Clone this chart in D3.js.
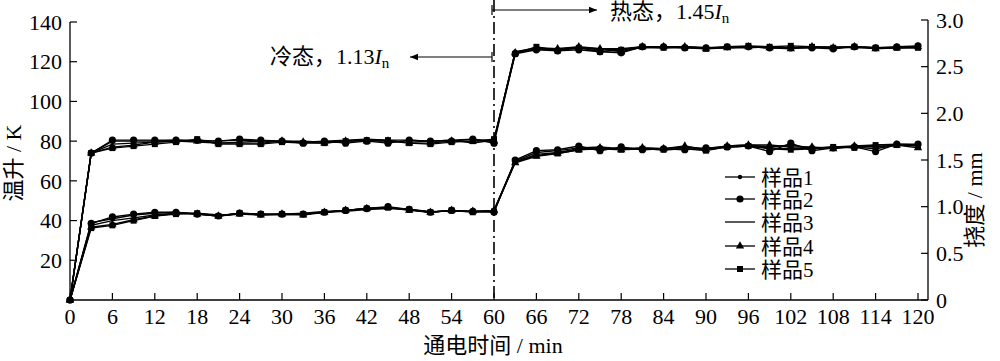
<!DOCTYPE html>
<html>
<head>
<meta charset="utf-8">
<script src="https://cdn.jsdelivr.net/npm/d3@7"></script>
<style>
  body { margin: 0; background: #fff; }
  svg { display: block; }
  text { font-family: "Liberation Serif", "Noto Sans CJK SC", serif; fill: #000; }
</style>
</head>
<body>
<svg id="graph" width="1000" height="361"></svg>
<script>
// time axis (min)
const minutes = [0, 3, 6, 9, 12, 15, 18, 21, 24, 27, 30, 33, 36, 39, 42, 45, 48, 51, 54, 57, 60,
  63, 66, 69, 72, 75, 78, 81, 84, 87, 90, 93, 96, 99, 102, 105, 108, 111, 114, 117, 120]
const xTicks = [0, 6, 12, 18, 24, 30, 36, 42, 48, 54, 60, 66, 72, 78, 84, 90, 96, 102, 108, 114, 120]
const leftTicks = [20, 40, 60, 80, 100, 120, 140]
const rightTicks = [0, 0.5, 1.0, 1.5, 2.0, 2.5, 3.0]
const sampleNames = ["样品1", "样品2", "样品3", "样品4", "样品5"]

// temperature rise (K), left axis
const temp1 = [0, 74, 80, 80, 80, 80.5, 80, 80, 80.5, 80, 80, 79.5, 80, 80.5, 81, 80.5, 80.5, 80, 80.5, 81, 80,
  125, 126.5, 126, 127, 126.5, 126.5, 127.5, 127.5, 127.5, 127, 127, 127.5, 127, 127, 127.5, 127, 127.5, 127, 127, 127.5]
const temp2 = [0, 74, 80.5, 80.5, 80.5, 80.5, 80.5, 80, 81, 80.5, 80, 79, 80, 79, 80, 79, 80.5, 80, 80, 81, 79,
  124, 126, 125.5, 126, 125, 124.5, 127.5, 127.5, 127, 127, 127.5, 127.5, 127, 127, 127, 126.5, 127.5, 127, 127.5, 128]
const temp3 = [0, 74, 78.5, 79, 79.5, 80, 79.5, 79, 79.5, 80, 80, 80, 79.5, 80, 80.5, 80, 79.5, 80, 80.5, 79, 80.5,
  125, 127, 126.5, 127, 126, 126, 127, 127, 127.5, 127, 127, 127, 127.5, 127, 127, 127.5, 127, 127, 127, 127]
const temp4 = [0, 74, 77, 78, 79.5, 80, 80, 79, 79, 79, 80, 79.5, 79, 80, 80, 80, 79, 79, 80, 80, 80,
  124.5, 126.5, 126.5, 127.5, 126.5, 125, 127.5, 127.5, 127.5, 126.5, 127, 127.5, 127, 126.5, 127.5, 127, 127.5, 126.5, 127, 127.5]
const temp5 = [0, 74, 76.5, 77.5, 78.5, 79.5, 81, 78.5, 78.5, 78.5, 79.5, 79, 79, 80, 80.5, 80.5, 79, 78.5, 79.5, 80, 81,
  124, 127.5, 125.5, 127, 125, 126, 127.5, 127, 127, 126.5, 127.5, 128, 127.5, 128, 127.5, 127, 127.5, 127, 127, 127]

// deflection (mm), right axis
const defl1 = [0, 0.83, 0.87, 0.91, 0.93, 0.94, 0.92, 0.90, 0.93, 0.91, 0.92, 0.93, 0.95, 0.96, 0.98, 0.99, 0.97, 0.94, 0.96, 0.95, 0.96,
  1.49, 1.58, 1.60, 1.63, 1.64, 1.62, 1.63, 1.62, 1.64, 1.62, 1.65, 1.66, 1.64, 1.66, 1.63, 1.64, 1.65, 1.66, 1.67, 1.66]
const defl2 = [0, 0.82, 0.89, 0.92, 0.94, 0.94, 0.92, 0.90, 0.93, 0.92, 0.92, 0.92, 0.94, 0.96, 0.98, 1.00, 0.97, 0.94, 0.96, 0.95, 0.94,
  1.50, 1.60, 1.61, 1.65, 1.60, 1.64, 1.61, 1.62, 1.61, 1.63, 1.64, 1.65, 1.59, 1.68, 1.60, 1.63, 1.64, 1.59, 1.67, 1.67]
const defl3 = [0, 0.80, 0.85, 0.88, 0.91, 0.93, 0.93, 0.91, 0.92, 0.92, 0.91, 0.92, 0.94, 0.95, 0.97, 0.98, 0.97, 0.95, 0.95, 0.95, 0.95,
  1.48, 1.56, 1.58, 1.62, 1.62, 1.62, 1.62, 1.61, 1.62, 1.61, 1.64, 1.65, 1.63, 1.62, 1.63, 1.63, 1.64, 1.62, 1.66, 1.66]
const defl4 = [0, 0.78, 0.81, 0.86, 0.90, 0.93, 0.92, 0.90, 0.92, 0.91, 0.92, 0.91, 0.94, 0.96, 0.98, 0.99, 0.96, 0.94, 0.96, 0.95, 0.96,
  1.47, 1.54, 1.57, 1.61, 1.63, 1.61, 1.63, 1.62, 1.65, 1.61, 1.65, 1.66, 1.66, 1.64, 1.64, 1.62, 1.65, 1.64, 1.66, 1.63]
const defl5 = [0, 0.77, 0.80, 0.85, 0.90, 0.92, 0.93, 0.90, 0.93, 0.92, 0.92, 0.92, 0.94, 0.96, 0.98, 0.99, 0.97, 0.94, 0.96, 0.94, 0.95,
  1.48, 1.55, 1.57, 1.61, 1.62, 1.61, 1.62, 1.61, 1.62, 1.60, 1.64, 1.65, 1.62, 1.61, 1.62, 1.64, 1.63, 1.66, 1.66, 1.65]

const temps = [temp1, temp2, temp3, temp4, temp5]
const defls = [defl1, defl2, defl3, defl4, defl5]

const svg = d3.select("#graph")

const plotLeft = 70, plotRight = 928, plotBottom = 300
const x = d3.scaleLinear().domain([0, 120]).range([plotLeft, 918])
const yLeft = d3.scaleLinear().domain([0, 140]).range([plotBottom, 22])
const yRight = d3.scaleLinear().domain([0, 3]).range([plotBottom, 20])

// marker drawers, one per sample
const markers = [
  (g) => g.append("circle").attr("r", 2.2),
  (g) => g.append("circle").attr("r", 3.6),
  (g) => {},
  (g) => g.append("path").attr("d", d3.symbol(d3.symbolTriangle, 30)()),
  (g) => g.append("path").attr("d", d3.symbol(d3.symbolSquare, 36)())
]

function draw_series(values, scale, idx){
  const pts = minutes.map((m, i) => [x(m), scale(values[i])])
  svg.append("path")
    .attr("d", d3.line()(pts))
    .attr("fill", "none")
    .attr("stroke", "#000")
    .attr("stroke-width", 1.4)
  pts.forEach(p => {
    const g = svg.append("g").attr("transform", `translate(${p[0]},${p[1]})`).attr("fill", "#000")
    markers[idx](g)
  })
}

// axes lines
svg.append("line").attr("x1", plotLeft).attr("x2", plotLeft).attr("y1", yLeft(140)).attr("y2", plotBottom)
  .attr("stroke", "#000").attr("stroke-width", 1.3)
svg.append("line").attr("x1", plotLeft).attr("x2", plotRight).attr("y1", plotBottom).attr("y2", plotBottom)
  .attr("stroke", "#000").attr("stroke-width", 1.3)
svg.append("line").attr("x1", plotRight).attr("x2", plotRight).attr("y1", yRight(3)).attr("y2", plotBottom)
  .attr("stroke", "#000").attr("stroke-width", 1.3)

// left ticks (inward)
leftTicks.forEach(t => {
  svg.append("line").attr("x1", plotLeft).attr("x2", plotLeft + 7).attr("y1", yLeft(t)).attr("y2", yLeft(t))
    .attr("stroke", "#000").attr("stroke-width", 1.2)
  svg.append("text").attr("x", 62).attr("y", yLeft(t)).attr("dy", "0.35em")
    .attr("text-anchor", "end").attr("font-size", 22).text(t)
})

// right ticks
rightTicks.forEach(t => {
  svg.append("line").attr("x1", plotRight - 7).attr("x2", plotRight).attr("y1", yRight(t)).attr("y2", yRight(t))
    .attr("stroke", "#000").attr("stroke-width", 1.2)
  svg.append("text").attr("x", 936).attr("y", yRight(t)).attr("dy", "0.35em")
    .attr("font-size", 22).text(t === 0 ? "0" : t.toFixed(1))
})

// bottom ticks
xTicks.forEach(t => {
  svg.append("line").attr("x1", x(t)).attr("x2", x(t)).attr("y1", plotBottom).attr("y2", plotBottom - 7)
    .attr("stroke", "#000").attr("stroke-width", 1.2)
  svg.append("text").attr("x", x(t)).attr("y", 324)
    .attr("text-anchor", "middle").attr("font-size", 22).text(t)
})

// axis titles
svg.append("text").attr("transform", "translate(21,163) rotate(-90)")
  .attr("text-anchor", "middle").attr("font-size", 22).text("温升 / K")
svg.append("text").attr("transform", "translate(982,200) rotate(-90)")
  .attr("text-anchor", "middle").attr("font-size", 22).text("挠度 / mm")
svg.append("text").attr("x", 493).attr("y", 353)
  .attr("text-anchor", "middle").attr("font-size", 22).text("通电时间 / min")

// dash-dot separator at 60 min
svg.append("line").attr("x1", x(60)).attr("x2", x(60)).attr("y1", 0).attr("y2", plotBottom)
  .attr("stroke", "#000").attr("stroke-width", 1.6).attr("stroke-dasharray", "12,4,2,4")

// arrow head
svg.append("defs").append("marker")
  .attr("id", "arrow").attr("viewBox", "0 0 10 10").attr("refX", 10).attr("refY", 5)
  .attr("markerWidth", 10).attr("markerHeight", 8).attr("markerUnits", "userSpaceOnUse").attr("orient", "auto")
  .append("path").attr("d", "M0,1 L10,5 L0,9 Z").attr("fill", "#000")

function draw_arrow(x1, x2, y){
  svg.append("line").attr("x1", x1).attr("x2", x2).attr("y1", y).attr("y2", y)
    .attr("stroke", "#000").attr("stroke-width", 1.2).attr("marker-end", "url(#arrow)")
  svg.append("line").attr("x1", x1).attr("x2", x1).attr("y1", y - 5).attr("y2", y + 5)
    .attr("stroke", "#000").attr("stroke-width", 1.2)
}
draw_arrow(x(60) - 2, 410, 57)
draw_arrow(x(60) - 2, 597, 10)

function draw_label(xp, y, pre, num){
  const t = svg.append("text").attr("x", xp).attr("y", y).attr("font-size", 22)
  t.append("tspan").text(pre)
  t.append("tspan").text(num)
  t.append("tspan").attr("font-style", "italic").text("I")
  t.append("tspan").attr("font-size", 15).attr("dy", 4).text("n")
}
draw_label(270, 64, "冷态，", "1.13")
draw_label(610, 19, "热态，", "1.45")

// series
temps.forEach((s, i) => draw_series(s, yLeft, i))
defls.forEach((s, i) => draw_series(s, yRight, i))

// legend
const legendY = [177, 199, 222, 246, 269]
sampleNames.forEach((name, i) => {
  svg.append("line").attr("x1", 725).attr("x2", 755).attr("y1", legendY[i]).attr("y2", legendY[i])
    .attr("stroke", "#000").attr("stroke-width", 1.3)
  const g = svg.append("g").attr("transform", `translate(740,${legendY[i]})`).attr("fill", "#000")
  markers[i](g)
  svg.append("text").attr("x", 761).attr("y", legendY[i]).attr("dy", "0.36em")
    .attr("font-size", 21).text(name)
})
</script>
</body>
</html>
